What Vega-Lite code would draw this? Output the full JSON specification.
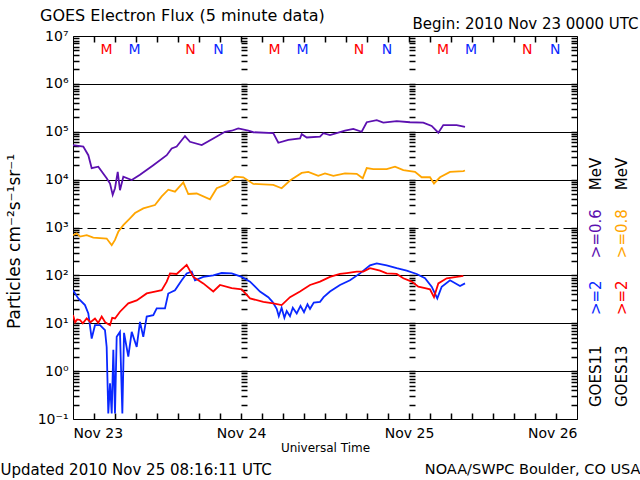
{
  "$schema": "https://vega.github.io/schema/vega-lite/v6.json",
  "width": 504,
  "height": 383,
  "autosize": "none",
  "padding": {"left": 73, "top": 36, "right": 63, "bottom": 61},
  "background": "white",
  "config": {
    "font": "DejaVu Sans",
    "view": {"stroke": "black", "strokeWidth": 1},
    "axis": {"labelColor": "black", "titleColor": "black", "tickColor": "black", "domainColor": "black", "titleFontWeight": "normal", "labelFont": "DejaVu Sans", "titleFont": "DejaVu Sans"},
    "text": {"font": "DejaVu Sans"}
  },
  "title": {"text": "GOES Electron Flux (5 minute data)", "anchor": "start", "frame": "group", "dx": -33, "dy": 20, "fontSize": 16, "fontWeight": "normal", "font": "DejaVu Sans", "color": "black", "offset": 12},
  "datasets": {
    "flux": [
      {"series": "GOES11 >=0.6 MeV", "hours": 0, "flux": 52500},
      {"series": "GOES11 >=0.6 MeV", "hours": 1.47, "flux": 49000},
      {"series": "GOES11 >=0.6 MeV", "hours": 2.19, "flux": 32400},
      {"series": "GOES11 >=0.6 MeV", "hours": 2.67, "flux": 17400},
      {"series": "GOES11 >=0.6 MeV", "hours": 3.61, "flux": 18600},
      {"series": "GOES11 >=0.6 MeV", "hours": 4.81, "flux": 10700},
      {"series": "GOES11 >=0.6 MeV", "hours": 5.29, "flux": 8300},
      {"series": "GOES11 >=0.6 MeV", "hours": 5.67, "flux": 4800},
      {"series": "GOES11 >=0.6 MeV", "hours": 6.0, "flux": 6600},
      {"series": "GOES11 >=0.6 MeV", "hours": 6.39, "flux": 14500},
      {"series": "GOES11 >=0.6 MeV", "hours": 6.71, "flux": 6000},
      {"series": "GOES11 >=0.6 MeV", "hours": 7.19, "flux": 11500},
      {"series": "GOES11 >=0.6 MeV", "hours": 8.39, "flux": 9800},
      {"series": "GOES11 >=0.6 MeV", "hours": 9.57, "flux": 12600},
      {"series": "GOES11 >=0.6 MeV", "hours": 11.47, "flux": 20000},
      {"series": "GOES11 >=0.6 MeV", "hours": 13.39, "flux": 32400},
      {"series": "GOES11 >=0.6 MeV", "hours": 14.1, "flux": 44700},
      {"series": "GOES11 >=0.6 MeV", "hours": 14.81, "flux": 49000},
      {"series": "GOES11 >=0.6 MeV", "hours": 16.0, "flux": 81300},
      {"series": "GOES11 >=0.6 MeV", "hours": 16.71, "flux": 61700},
      {"series": "GOES11 >=0.6 MeV", "hours": 18.39, "flux": 52500},
      {"series": "GOES11 >=0.6 MeV", "hours": 20.04, "flux": 72400},
      {"series": "GOES11 >=0.6 MeV", "hours": 21.71, "flux": 100000},
      {"series": "GOES11 >=0.6 MeV", "hours": 22.67, "flux": 105000},
      {"series": "GOES11 >=0.6 MeV", "hours": 23.61, "flux": 117000},
      {"series": "GOES11 >=0.6 MeV", "hours": 25.04, "flux": 105000},
      {"series": "GOES11 >=0.6 MeV", "hours": 25.76, "flux": 97700},
      {"series": "GOES11 >=0.6 MeV", "hours": 28.61, "flux": 93300},
      {"series": "GOES11 >=0.6 MeV", "hours": 29.33, "flux": 58900},
      {"series": "GOES11 >=0.6 MeV", "hours": 30.76, "flux": 67600},
      {"series": "GOES11 >=0.6 MeV", "hours": 32.43, "flux": 72400},
      {"series": "GOES11 >=0.6 MeV", "hours": 32.67, "flux": 89100},
      {"series": "GOES11 >=0.6 MeV", "hours": 33.39, "flux": 75900},
      {"series": "GOES11 >=0.6 MeV", "hours": 35.29, "flux": 79400},
      {"series": "GOES11 >=0.6 MeV", "hours": 35.76, "flux": 93300},
      {"series": "GOES11 >=0.6 MeV", "hours": 36.71, "flux": 85100},
      {"series": "GOES11 >=0.6 MeV", "hours": 38.86, "flux": 105000},
      {"series": "GOES11 >=0.6 MeV", "hours": 40.04, "flux": 115000},
      {"series": "GOES11 >=0.6 MeV", "hours": 41.24, "flux": 100000},
      {"series": "GOES11 >=0.6 MeV", "hours": 41.96, "flux": 158000},
      {"series": "GOES11 >=0.6 MeV", "hours": 43.39, "flux": 174000},
      {"series": "GOES11 >=0.6 MeV", "hours": 44.33, "flux": 155000},
      {"series": "GOES11 >=0.6 MeV", "hours": 46.24, "flux": 166000},
      {"series": "GOES11 >=0.6 MeV", "hours": 48.14, "flux": 158000},
      {"series": "GOES11 >=0.6 MeV", "hours": 50.04, "flux": 155000},
      {"series": "GOES11 >=0.6 MeV", "hours": 51.24, "flux": 132000},
      {"series": "GOES11 >=0.6 MeV", "hours": 52.19, "flux": 95500},
      {"series": "GOES11 >=0.6 MeV", "hours": 52.9, "flux": 138000},
      {"series": "GOES11 >=0.6 MeV", "hours": 54.81, "flux": 138000},
      {"series": "GOES11 >=0.6 MeV", "hours": 56.0, "flux": 126000},

      {"series": "GOES13 >=0.8 MeV", "hours": 0, "flux": 692},
      {"series": "GOES13 >=0.8 MeV", "hours": 0.53, "flux": 759},
      {"series": "GOES13 >=0.8 MeV", "hours": 1.0, "flux": 646},
      {"series": "GOES13 >=0.8 MeV", "hours": 1.96, "flux": 692},
      {"series": "GOES13 >=0.8 MeV", "hours": 2.9, "flux": 617},
      {"series": "GOES13 >=0.8 MeV", "hours": 4.81, "flux": 589},
      {"series": "GOES13 >=0.8 MeV", "hours": 5.53, "flux": 427},
      {"series": "GOES13 >=0.8 MeV", "hours": 6.0, "flux": 550},
      {"series": "GOES13 >=0.8 MeV", "hours": 6.47, "flux": 813},
      {"series": "GOES13 >=0.8 MeV", "hours": 7.19, "flux": 1120},
      {"series": "GOES13 >=0.8 MeV", "hours": 8.14, "flux": 1550},
      {"series": "GOES13 >=0.8 MeV", "hours": 8.86, "flux": 2000},
      {"series": "GOES13 >=0.8 MeV", "hours": 10.04, "flux": 2510},
      {"series": "GOES13 >=0.8 MeV", "hours": 11.71, "flux": 2950},
      {"series": "GOES13 >=0.8 MeV", "hours": 12.67, "flux": 4470},
      {"series": "GOES13 >=0.8 MeV", "hours": 13.61, "flux": 6170},
      {"series": "GOES13 >=0.8 MeV", "hours": 14.57, "flux": 5620},
      {"series": "GOES13 >=0.8 MeV", "hours": 15.76, "flux": 8710},
      {"series": "GOES13 >=0.8 MeV", "hours": 16.47, "flux": 5010},
      {"series": "GOES13 >=0.8 MeV", "hours": 17.67, "flux": 5130},
      {"series": "GOES13 >=0.8 MeV", "hours": 19.57, "flux": 3890},
      {"series": "GOES13 >=0.8 MeV", "hours": 20.53, "flux": 6610},
      {"series": "GOES13 >=0.8 MeV", "hours": 21.71, "flux": 7760},
      {"series": "GOES13 >=0.8 MeV", "hours": 23.14, "flux": 11500},
      {"series": "GOES13 >=0.8 MeV", "hours": 24.33, "flux": 11200},
      {"series": "GOES13 >=0.8 MeV", "hours": 25.76, "flux": 8130},
      {"series": "GOES13 >=0.8 MeV", "hours": 28.61, "flux": 7760},
      {"series": "GOES13 >=0.8 MeV", "hours": 29.81, "flux": 6610},
      {"series": "GOES13 >=0.8 MeV", "hours": 31.0, "flux": 9550},
      {"series": "GOES13 >=0.8 MeV", "hours": 32.67, "flux": 13800},
      {"series": "GOES13 >=0.8 MeV", "hours": 33.61, "flux": 14500},
      {"series": "GOES13 >=0.8 MeV", "hours": 35.04, "flux": 12000},
      {"series": "GOES13 >=0.8 MeV", "hours": 36.0, "flux": 13500},
      {"series": "GOES13 >=0.8 MeV", "hours": 37.19, "flux": 12000},
      {"series": "GOES13 >=0.8 MeV", "hours": 38.86, "flux": 13500},
      {"series": "GOES13 >=0.8 MeV", "hours": 40.53, "flux": 13200},
      {"series": "GOES13 >=0.8 MeV", "hours": 41.39, "flux": 10700},
      {"series": "GOES13 >=0.8 MeV", "hours": 41.96, "flux": 17400},
      {"series": "GOES13 >=0.8 MeV", "hours": 42.9, "flux": 16600},
      {"series": "GOES13 >=0.8 MeV", "hours": 44.81, "flux": 16600},
      {"series": "GOES13 >=0.8 MeV", "hours": 46.0, "flux": 18600},
      {"series": "GOES13 >=0.8 MeV", "hours": 47.19, "flux": 15800},
      {"series": "GOES13 >=0.8 MeV", "hours": 48.86, "flux": 14500},
      {"series": "GOES13 >=0.8 MeV", "hours": 49.81, "flux": 11200},
      {"series": "GOES13 >=0.8 MeV", "hours": 51.0, "flux": 11200},
      {"series": "GOES13 >=0.8 MeV", "hours": 51.57, "flux": 8300},
      {"series": "GOES13 >=0.8 MeV", "hours": 52.43, "flux": 11200},
      {"series": "GOES13 >=0.8 MeV", "hours": 53.86, "flux": 14500},
      {"series": "GOES13 >=0.8 MeV", "hours": 55.76, "flux": 15100},
      {"series": "GOES13 >=0.8 MeV", "hours": 56.0, "flux": 15500},

      {"series": "GOES11 >=2 MeV", "hours": 0, "flux": 49},
      {"series": "GOES11 >=2 MeV", "hours": 0.76, "flux": 33},
      {"series": "GOES11 >=2 MeV", "hours": 1.71, "flux": 24},
      {"series": "GOES11 >=2 MeV", "hours": 2.19, "flux": 16},
      {"series": "GOES11 >=2 MeV", "hours": 2.67, "flux": 4.8},
      {"series": "GOES11 >=2 MeV", "hours": 3.14, "flux": 9.1},
      {"series": "GOES11 >=2 MeV", "hours": 3.86, "flux": 9.1},
      {"series": "GOES11 >=2 MeV", "hours": 4.57, "flux": 7.2},
      {"series": "GOES11 >=2 MeV", "hours": 4.81, "flux": 3.2},
      {"series": "GOES11 >=2 MeV", "hours": 5.04, "flux": 0.13},
      {"series": "GOES11 >=2 MeV", "hours": 5.29, "flux": 0.56},
      {"series": "GOES11 >=2 MeV", "hours": 5.53, "flux": 0.13},
      {"series": "GOES11 >=2 MeV", "hours": 5.76, "flux": 2.8},
      {"series": "GOES11 >=2 MeV", "hours": 6.0, "flux": 0.13},
      {"series": "GOES11 >=2 MeV", "hours": 6.24, "flux": 5.2},
      {"series": "GOES11 >=2 MeV", "hours": 6.71, "flux": 6.6},
      {"series": "GOES11 >=2 MeV", "hours": 7.05, "flux": 0.13},
      {"series": "GOES11 >=2 MeV", "hours": 7.29, "flux": 6.3},
      {"series": "GOES11 >=2 MeV", "hours": 7.9, "flux": 2.0},
      {"series": "GOES11 >=2 MeV", "hours": 8.39, "flux": 6.6},
      {"series": "GOES11 >=2 MeV", "hours": 9.1, "flux": 3.2},
      {"series": "GOES11 >=2 MeV", "hours": 9.57, "flux": 10.7},
      {"series": "GOES11 >=2 MeV", "hours": 10.04, "flux": 5.2},
      {"series": "GOES11 >=2 MeV", "hours": 10.53, "flux": 13.8},
      {"series": "GOES11 >=2 MeV", "hours": 11.47, "flux": 14.8},
      {"series": "GOES11 >=2 MeV", "hours": 11.96, "flux": 20.4},
      {"series": "GOES11 >=2 MeV", "hours": 13.14, "flux": 20.4},
      {"series": "GOES11 >=2 MeV", "hours": 13.61, "flux": 41.7},
      {"series": "GOES11 >=2 MeV", "hours": 14.57, "flux": 49},
      {"series": "GOES11 >=2 MeV", "hours": 15.53, "flux": 79},
      {"series": "GOES11 >=2 MeV", "hours": 16.24, "flux": 110},
      {"series": "GOES11 >=2 MeV", "hours": 16.96, "flux": 120},
      {"series": "GOES11 >=2 MeV", "hours": 17.43, "flux": 79},
      {"series": "GOES11 >=2 MeV", "hours": 18.61, "flux": 93},
      {"series": "GOES11 >=2 MeV", "hours": 20.04, "flux": 100},
      {"series": "GOES11 >=2 MeV", "hours": 21.24, "flux": 112},
      {"series": "GOES11 >=2 MeV", "hours": 22.67, "flux": 110},
      {"series": "GOES11 >=2 MeV", "hours": 24.1, "flux": 93},
      {"series": "GOES11 >=2 MeV", "hours": 25.29, "flux": 74},
      {"series": "GOES11 >=2 MeV", "hours": 26.71, "flux": 46},
      {"series": "GOES11 >=2 MeV", "hours": 27.9, "flux": 35},
      {"series": "GOES11 >=2 MeV", "hours": 28.5, "flux": 28},
      {"series": "GOES11 >=2 MeV", "hours": 29.1, "flux": 20},
      {"series": "GOES11 >=2 MeV", "hours": 29.4, "flux": 14},
      {"series": "GOES11 >=2 MeV", "hours": 29.8, "flux": 21},
      {"series": "GOES11 >=2 MeV", "hours": 30.2, "flux": 13},
      {"series": "GOES11 >=2 MeV", "hours": 30.53, "flux": 18},
      {"series": "GOES11 >=2 MeV", "hours": 31.0, "flux": 14},
      {"series": "GOES11 >=2 MeV", "hours": 31.4, "flux": 21},
      {"series": "GOES11 >=2 MeV", "hours": 31.96, "flux": 16},
      {"series": "GOES11 >=2 MeV", "hours": 32.5, "flux": 23},
      {"series": "GOES11 >=2 MeV", "hours": 33.0, "flux": 17},
      {"series": "GOES11 >=2 MeV", "hours": 33.5, "flux": 25},
      {"series": "GOES11 >=2 MeV", "hours": 33.86, "flux": 20},
      {"series": "GOES11 >=2 MeV", "hours": 34.4, "flux": 27},
      {"series": "GOES11 >=2 MeV", "hours": 35.29, "flux": 28},
      {"series": "GOES11 >=2 MeV", "hours": 35.8, "flux": 35},
      {"series": "GOES11 >=2 MeV", "hours": 36.71, "flux": 46},
      {"series": "GOES11 >=2 MeV", "hours": 38.14, "flux": 63},
      {"series": "GOES11 >=2 MeV", "hours": 39.57, "flux": 79},
      {"series": "GOES11 >=2 MeV", "hours": 41.0, "flux": 110},
      {"series": "GOES11 >=2 MeV", "hours": 42.43, "flux": 162},
      {"series": "GOES11 >=2 MeV", "hours": 43.39, "flux": 178},
      {"series": "GOES11 >=2 MeV", "hours": 44.81, "flux": 162},
      {"series": "GOES11 >=2 MeV", "hours": 46.24, "flux": 141},
      {"series": "GOES11 >=2 MeV", "hours": 47.67, "flux": 126},
      {"series": "GOES11 >=2 MeV", "hours": 49.1, "flux": 107},
      {"series": "GOES11 >=2 MeV", "hours": 50.29, "flux": 87},
      {"series": "GOES11 >=2 MeV", "hours": 51.24, "flux": 58},
      {"series": "GOES11 >=2 MeV", "hours": 52.04, "flux": 33},
      {"series": "GOES11 >=2 MeV", "hours": 52.67, "flux": 58},
      {"series": "GOES11 >=2 MeV", "hours": 53.86, "flux": 79},
      {"series": "GOES11 >=2 MeV", "hours": 55.29, "flux": 60},
      {"series": "GOES11 >=2 MeV", "hours": 56.0, "flux": 68},

      {"series": "GOES13 >=2 MeV", "hours": 0, "flux": 14.8},
      {"series": "GOES13 >=2 MeV", "hours": 0.3, "flux": 10.5},
      {"series": "GOES13 >=2 MeV", "hours": 0.6, "flux": 12},
      {"series": "GOES13 >=2 MeV", "hours": 1.0, "flux": 11.7},
      {"series": "GOES13 >=2 MeV", "hours": 1.4, "flux": 10},
      {"series": "GOES13 >=2 MeV", "hours": 1.96, "flux": 12.6},
      {"series": "GOES13 >=2 MeV", "hours": 2.5, "flux": 10.5},
      {"series": "GOES13 >=2 MeV", "hours": 3.14, "flux": 12.6},
      {"series": "GOES13 >=2 MeV", "hours": 3.6, "flux": 10.2},
      {"series": "GOES13 >=2 MeV", "hours": 4.1, "flux": 13.8},
      {"series": "GOES13 >=2 MeV", "hours": 4.6, "flux": 10.5},
      {"series": "GOES13 >=2 MeV", "hours": 5.29, "flux": 9.1},
      {"series": "GOES13 >=2 MeV", "hours": 5.6, "flux": 13},
      {"series": "GOES13 >=2 MeV", "hours": 6.0, "flux": 12.6},
      {"series": "GOES13 >=2 MeV", "hours": 6.71, "flux": 17.4},
      {"series": "GOES13 >=2 MeV", "hours": 7.9, "flux": 26},
      {"series": "GOES13 >=2 MeV", "hours": 9.1, "flux": 30},
      {"series": "GOES13 >=2 MeV", "hours": 10.53, "flux": 42},
      {"series": "GOES13 >=2 MeV", "hours": 11.71, "flux": 46},
      {"series": "GOES13 >=2 MeV", "hours": 12.67, "flux": 49},
      {"series": "GOES13 >=2 MeV", "hours": 13.39, "flux": 74},
      {"series": "GOES13 >=2 MeV", "hours": 13.86, "flux": 110},
      {"series": "GOES13 >=2 MeV", "hours": 14.81, "flux": 107},
      {"series": "GOES13 >=2 MeV", "hours": 16.24, "flux": 166},
      {"series": "GOES13 >=2 MeV", "hours": 17.19, "flux": 93},
      {"series": "GOES13 >=2 MeV", "hours": 18.61, "flux": 68},
      {"series": "GOES13 >=2 MeV", "hours": 20.04, "flux": 46},
      {"series": "GOES13 >=2 MeV", "hours": 21.0, "flux": 63},
      {"series": "GOES13 >=2 MeV", "hours": 22.67, "flux": 54},
      {"series": "GOES13 >=2 MeV", "hours": 24.1, "flux": 51},
      {"series": "GOES13 >=2 MeV", "hours": 25.29, "flux": 33},
      {"series": "GOES13 >=2 MeV", "hours": 27.19, "flux": 28},
      {"series": "GOES13 >=2 MeV", "hours": 28.61, "flux": 26},
      {"series": "GOES13 >=2 MeV", "hours": 29.81, "flux": 24},
      {"series": "GOES13 >=2 MeV", "hours": 31.0, "flux": 35},
      {"series": "GOES13 >=2 MeV", "hours": 32.43, "flux": 46},
      {"series": "GOES13 >=2 MeV", "hours": 33.86, "flux": 63},
      {"series": "GOES13 >=2 MeV", "hours": 35.29, "flux": 74},
      {"series": "GOES13 >=2 MeV", "hours": 36.71, "flux": 93},
      {"series": "GOES13 >=2 MeV", "hours": 38.14, "flux": 107},
      {"series": "GOES13 >=2 MeV", "hours": 39.1, "flux": 112},
      {"series": "GOES13 >=2 MeV", "hours": 40.53, "flux": 120},
      {"series": "GOES13 >=2 MeV", "hours": 41.47, "flux": 120},
      {"series": "GOES13 >=2 MeV", "hours": 42.43, "flux": 141},
      {"series": "GOES13 >=2 MeV", "hours": 43.86, "flux": 126},
      {"series": "GOES13 >=2 MeV", "hours": 44.81, "flux": 110},
      {"series": "GOES13 >=2 MeV", "hours": 46.24, "flux": 107},
      {"series": "GOES13 >=2 MeV", "hours": 47.19, "flux": 87},
      {"series": "GOES13 >=2 MeV", "hours": 48.39, "flux": 74},
      {"series": "GOES13 >=2 MeV", "hours": 49.33, "flux": 58},
      {"series": "GOES13 >=2 MeV", "hours": 50.29, "flux": 54},
      {"series": "GOES13 >=2 MeV", "hours": 51.0, "flux": 51},
      {"series": "GOES13 >=2 MeV", "hours": 51.57, "flux": 35},
      {"series": "GOES13 >=2 MeV", "hours": 52.19, "flux": 68},
      {"series": "GOES13 >=2 MeV", "hours": 53.39, "flux": 87},
      {"series": "GOES13 >=2 MeV", "hours": 54.81, "flux": 93},
      {"series": "GOES13 >=2 MeV", "hours": 55.76, "flux": 98}
    ],
    "mn": [
      {"series": "GOES13 >=2 MeV", "label": "M", "hours": 4.8},
      {"series": "GOES11 >=2 MeV", "label": "M", "hours": 8.8},
      {"series": "GOES13 >=2 MeV", "label": "N", "hours": 16.8},
      {"series": "GOES11 >=2 MeV", "label": "N", "hours": 20.8},
      {"series": "GOES13 >=2 MeV", "label": "M", "hours": 28.8},
      {"series": "GOES11 >=2 MeV", "label": "M", "hours": 32.8},
      {"series": "GOES13 >=2 MeV", "label": "N", "hours": 40.85},
      {"series": "GOES11 >=2 MeV", "label": "N", "hours": 44.85},
      {"series": "GOES13 >=2 MeV", "label": "M", "hours": 52.85},
      {"series": "GOES11 >=2 MeV", "label": "M", "hours": 56.85},
      {"series": "GOES13 >=2 MeV", "label": "N", "hours": 64.9},
      {"series": "GOES11 >=2 MeV", "label": "N", "hours": 68.9}
    ]
  },
  "resolve": {"axis": {"x": "independent", "y": "independent"}},
  "layer": [
    {
      "data": {"name": "flux"},
      "mark": {"type": "line", "strokeWidth": 1.8, "clip": true},
      "encoding": {
        "x": {"field": "hours", "type": "quantitative", "scale": {"domain": [0, 72]},
          "axis": {"orient": "bottom", "values": [0, 24, 48, 72], "labelExpr": "datum.value == 0 ? 'Nov 23' : datum.value == 24 ? 'Nov 24' : datum.value == 48 ? 'Nov 25' : 'Nov 26'", "ticks": false, "domain": false, "grid": false, "labelFontSize": 14, "labelPadding": 7, "title": "Universal Time", "titleFontSize": 12, "titlePadding": 2}},
        "y": {"field": "flux", "type": "quantitative", "scale": {"type": "log", "domain": [0.1, 10000000]},
          "axis": {"orient": "left", "values": [0.1, 1, 10, 100, 1000, 10000, 100000, 1000000, 10000000], "labelExpr": "datum.value < 0.5 ? '10⁻¹' : '10' + ['⁰','¹','²','³','⁴','⁵','⁶','⁷'][round(log(datum.value) / LN10)]", "ticks": false, "domain": false, "grid": true, "gridColor": "black", "gridOpacity": 1, "gridWidth": 1, "gridDash": {"condition": {"test": "datum.value == 1000", "value": [9, 5]}, "value": []}, "labelFontSize": 14, "labelPadding": 5, "title": "Particles cm⁻²s⁻¹sr⁻¹", "titleFontSize": 17, "titlePadding": 14, "titleY": 205}},
        "color": {"field": "series", "type": "nominal", "scale": {"domain": ["GOES11 >=0.6 MeV", "GOES13 >=0.8 MeV", "GOES11 >=2 MeV", "GOES13 >=2 MeV"], "range": ["#5c10b0", "#ffa500", "#0a28ff", "#ff0000"]}, "legend": null}
      }
    },
    {
      "data": {"name": "flux"},
      "mark": {"type": "point", "opacity": 0},
      "encoding": {
        "x": {"field": "hours", "type": "quantitative", "scale": {"domain": [0, 72]},
          "axis": {"orient": "bottom", "offset": -6, "values": [3, 6, 9, 12, 15, 18, 21, 24, 27, 30, 33, 36, 39, 42, 45, 48, 51, 54, 57, 60, 63, 66, 69], "labels": false, "domain": false, "grid": false, "tickSize": 6, "tickWidth": 1.5, "tickColor": "black", "title": "Updated 2010 Nov 25 08:16:11 UTC", "titleFontSize": 15, "titleX": -73, "titleY": 56, "titleAlign": "left", "titleBaseline": "middle", "titleAngle": 0}},
        "y": {"field": "flux", "type": "quantitative", "scale": {"type": "log", "domain": [0.1, 10000000]},
          "axis": {"orient": "left", "offset": -6, "values": [0.2, 0.3, 0.4, 0.5, 0.6, 0.7, 0.8, 0.9, 1, 2, 3, 4, 5, 6, 7, 8, 9, 10, 20, 30, 40, 50, 60, 70, 80, 90, 100, 200, 300, 400, 500, 600, 700, 800, 900, 1000, 2000, 3000, 4000, 5000, 6000, 7000, 8000, 9000, 10000, 20000, 30000, 40000, 50000, 60000, 70000, 80000, 90000, 100000, 200000, 300000, 400000, 500000, 600000, 700000, 800000, 900000, 1000000, 2000000, 3000000, 4000000, 5000000, 6000000, 7000000, 8000000, 9000000], "labels": false, "domain": false, "grid": false, "tickSize": 6, "tickWidth": 1.5, "tickColor": "black", "title": null}}
      }
    },
    {
      "data": {"name": "flux"},
      "mark": {"type": "point", "opacity": 0},
      "encoding": {
        "x": {"field": "hours", "type": "quantitative", "scale": {"domain": [0, 72]},
          "axis": {"orient": "top", "offset": -6, "values": [3, 6, 9, 12, 15, 18, 21, 24, 27, 30, 33, 36, 39, 42, 45, 48, 51, 54, 57, 60, 63, 66, 69], "labels": false, "domain": false, "grid": false, "tickSize": 6, "tickWidth": 1.5, "tickColor": "black", "title": "Begin: 2010 Nov 23 0000 UTC", "titleFontSize": 15, "titleX": 565, "titleY": -19, "titleAlign": "right", "titleBaseline": "middle", "titleAngle": 0}},
        "y": {"field": "flux", "type": "quantitative", "scale": {"type": "log", "domain": [0.1, 10000000]},
          "axis": {"orient": "right", "offset": -6, "values": [0.2, 0.3, 0.4, 0.5, 0.6, 0.7, 0.8, 0.9, 1, 2, 3, 4, 5, 6, 7, 8, 9, 10, 20, 30, 40, 50, 60, 70, 80, 90, 100, 200, 300, 400, 500, 600, 700, 800, 900, 1000, 2000, 3000, 4000, 5000, 6000, 7000, 8000, 9000, 10000, 20000, 30000, 40000, 50000, 60000, 70000, 80000, 90000, 100000, 200000, 300000, 400000, 500000, 600000, 700000, 800000, 900000, 1000000, 2000000, 3000000, 4000000, 5000000, 6000000, 7000000, 8000000, 9000000], "labels": false, "domain": false, "grid": false, "tickSize": 6, "tickWidth": 1.5, "tickColor": "black", "title": null}}
      }
    },
    {
      "data": {"name": "flux"},
      "mark": {"type": "point", "opacity": 0},
      "encoding": {
        "x": {"field": "hours", "type": "quantitative", "scale": {"domain": [0, 72]},
          "axis": {"orient": "bottom", "ticks": false, "labels": false, "domain": false, "grid": false, "title": "NOAA/SWPC Boulder, CO USA", "titleFontSize": 14.5, "titleX": 567, "titleY": 50, "titleAlign": "right", "titleBaseline": "middle", "titleAngle": 0}},
        "y": {"field": "flux", "type": "quantitative", "scale": {"type": "log", "domain": [0.1, 10000000]},
          "axis": {"orient": "right", "offset": -336, "values": [0.2, 0.3, 0.4, 0.5, 0.6, 0.7, 0.8, 0.9, 1, 2, 3, 4, 5, 6, 7, 8, 9, 10, 20, 30, 40, 50, 60, 70, 80, 90, 100, 200, 300, 400, 500, 600, 700, 800, 900, 1000, 2000, 3000, 4000, 5000, 6000, 7000, 8000, 9000, 10000, 20000, 30000, 40000, 50000, 60000, 70000, 80000, 90000, 100000, 200000, 300000, 400000, 500000, 600000, 700000, 800000, 900000, 1000000, 2000000, 3000000, 4000000, 5000000, 6000000, 7000000, 8000000, 9000000], "labels": false, "domain": false, "grid": false, "tickSize": 6, "tickWidth": 1.5, "tickColor": "black", "title": null}}
      }
    },
    {
      "data": {"name": "flux"},
      "mark": {"type": "point", "opacity": 0},
      "encoding": {
        "x": {"field": "hours", "type": "quantitative", "scale": {"domain": [0, 72]}, "axis": null},
        "y": {"field": "flux", "type": "quantitative", "scale": {"type": "log", "domain": [0.1, 10000000]},
          "axis": {"orient": "right", "offset": -168, "values": [0.2, 0.3, 0.4, 0.5, 0.6, 0.7, 0.8, 0.9, 1, 2, 3, 4, 5, 6, 7, 8, 9, 10, 20, 30, 40, 50, 60, 70, 80, 90, 100, 200, 300, 400, 500, 600, 700, 800, 900, 1000, 2000, 3000, 4000, 5000, 6000, 7000, 8000, 9000, 10000, 20000, 30000, 40000, 50000, 60000, 70000, 80000, 90000, 100000, 200000, 300000, 400000, 500000, 600000, 700000, 800000, 900000, 1000000, 2000000, 3000000, 4000000, 5000000, 6000000, 7000000, 8000000, 9000000], "labels": false, "domain": false, "grid": false, "tickSize": 6, "tickWidth": 1.5, "tickColor": "black", "title": null}}
      }
    },
    {
      "data": {"name": "mn"},
      "mark": {"type": "text", "fontSize": 14, "baseline": "middle", "align": "center"},
      "encoding": {
        "x": {"field": "hours", "type": "quantitative", "scale": {"domain": [0, 72]}, "axis": null},
        "y": {"datum": 5100000, "type": "quantitative", "scale": {"type": "log", "domain": [0.1, 10000000]}, "axis": null},
        "text": {"field": "label"},
        "color": {"field": "series", "type": "nominal", "scale": {"domain": ["GOES11 >=0.6 MeV", "GOES13 >=0.8 MeV", "GOES11 >=2 MeV", "GOES13 >=2 MeV"], "range": ["#5c10b0", "#ffa500", "#0a28ff", "#ff0000"]}, "legend": null}
      }
    },
    {
      "data": {"values": [{}]},
      "mark": {"type": "text", "angle": 270, "align": "left", "baseline": "middle", "fontSize": 15, "color": "black"},
      "encoding": {"x": {"datum": 74.7, "type": "quantitative", "scale": {"domain": [0, 72]}, "axis": null}, "y": {"datum": 0.178, "type": "quantitative", "scale": {"type": "log", "domain": [0.1, 10000000]}, "axis": null}, "text": {"value": "GOES11"}}
    },
    {
      "data": {"values": [{}]},
      "mark": {"type": "text", "angle": 270, "align": "left", "baseline": "middle", "fontSize": 15, "color": "#0a28ff"},
      "encoding": {"x": {"datum": 74.7, "type": "quantitative", "scale": {"domain": [0, 72]}, "axis": null}, "y": {"datum": 14.8, "type": "quantitative", "scale": {"type": "log", "domain": [0.1, 10000000]}, "axis": null}, "text": {"value": ">=2"}}
    },
    {
      "data": {"values": [{}]},
      "mark": {"type": "text", "angle": 270, "align": "left", "baseline": "middle", "fontSize": 15, "color": "#5c10b0"},
      "encoding": {"x": {"datum": 74.7, "type": "quantitative", "scale": {"domain": [0, 72]}, "axis": null}, "y": {"datum": 229, "type": "quantitative", "scale": {"type": "log", "domain": [0.1, 10000000]}, "axis": null}, "text": {"value": ">=0.6"}}
    },
    {
      "data": {"values": [{}]},
      "mark": {"type": "text", "angle": 270, "align": "left", "baseline": "middle", "fontSize": 15, "color": "black"},
      "encoding": {"x": {"datum": 74.7, "type": "quantitative", "scale": {"domain": [0, 72]}, "axis": null}, "y": {"datum": 6030, "type": "quantitative", "scale": {"type": "log", "domain": [0.1, 10000000]}, "axis": null}, "text": {"value": "MeV"}}
    },
    {
      "data": {"values": [{}]},
      "mark": {"type": "text", "angle": 270, "align": "left", "baseline": "middle", "fontSize": 15, "color": "black"},
      "encoding": {"x": {"datum": 78.4, "type": "quantitative", "scale": {"domain": [0, 72]}, "axis": null}, "y": {"datum": 0.178, "type": "quantitative", "scale": {"type": "log", "domain": [0.1, 10000000]}, "axis": null}, "text": {"value": "GOES13"}}
    },
    {
      "data": {"values": [{}]},
      "mark": {"type": "text", "angle": 270, "align": "left", "baseline": "middle", "fontSize": 15, "color": "#ff0000"},
      "encoding": {"x": {"datum": 78.4, "type": "quantitative", "scale": {"domain": [0, 72]}, "axis": null}, "y": {"datum": 14.8, "type": "quantitative", "scale": {"type": "log", "domain": [0.1, 10000000]}, "axis": null}, "text": {"value": ">=2"}}
    },
    {
      "data": {"values": [{}]},
      "mark": {"type": "text", "angle": 270, "align": "left", "baseline": "middle", "fontSize": 15, "color": "#ffa500"},
      "encoding": {"x": {"datum": 78.4, "type": "quantitative", "scale": {"domain": [0, 72]}, "axis": null}, "y": {"datum": 229, "type": "quantitative", "scale": {"type": "log", "domain": [0.1, 10000000]}, "axis": null}, "text": {"value": ">=0.8"}}
    },
    {
      "data": {"values": [{}]},
      "mark": {"type": "text", "angle": 270, "align": "left", "baseline": "middle", "fontSize": 15, "color": "black"},
      "encoding": {"x": {"datum": 78.4, "type": "quantitative", "scale": {"domain": [0, 72]}, "axis": null}, "y": {"datum": 6030, "type": "quantitative", "scale": {"type": "log", "domain": [0.1, 10000000]}, "axis": null}, "text": {"value": "MeV"}}
    }
  ]
}
